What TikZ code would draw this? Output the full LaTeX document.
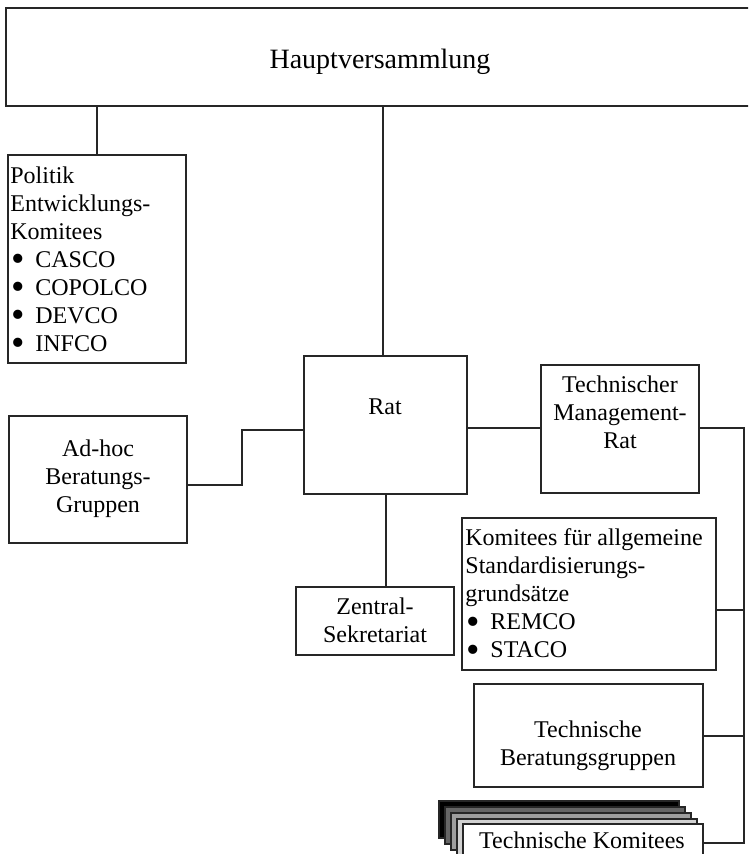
\documentclass[tikz,border=0pt]{standalone}
\usepackage{fontspec}
\setmainfont{Liberation Serif}
\tikzset{
  box/.style={draw=black!85, line width=1pt, rectangle, inner sep=0pt},
  txt/.style={inner sep=0pt, align=center, font=\fontsize{12pt}{14pt}\selectfont},
  lst/.style={inner sep=0pt, align=left, anchor=north west, font=\fontsize{12pt}{14pt}\selectfont},
  link/.style={draw=black!85, line width=1pt},
}
\newcommand{\itm}[1]{\makebox[12.5pt][l]{\hspace{0.5pt}\smash{\raisebox{-0.2em}{\scalebox{1.6}{\textbullet}}}}#1}
\begin{document}
\begin{tikzpicture}[x=0.5pt,y=-0.5pt]
        \useasboundingbox (0,0) rectangle (748,854);
        \clip (0,0) rectangle (748,854);
        % boxes
        \node[box, minimum width=382pt, minimum height=49pt] (hv) at (388,57) {};
        \node[box, minimum width=89pt, minimum height=104pt] (pol) at (97,259) {};
        \node[box, minimum width=89pt, minimum height=63.5pt] (adhoc) at (98,479.5) {};
        \node[box, minimum width=81.5pt, minimum height=69pt] (rat) at (385.5,425) {};
        \node[box, minimum width=79pt, minimum height=64pt] (tmr) at (620,429) {};
        \node[box, minimum width=79pt, minimum height=34pt] (zs) at (375,621) {};
        \node[box, minimum width=127pt, minimum height=76pt] (kom) at (589,594) {};
        \node[box, minimum width=114.5pt, minimum height=51.5pt] (tb) at (588.5,735.5) {};
        % stacked committees
        \node[box, fill=black, minimum width=120pt, minimum height=18.5pt] (tkd) at (559,819.5) {};
        \node[box, fill=black!60, minimum width=120pt, minimum height=18.5pt] (tkc) at (565,825) {};
        \node[box, fill=black!38, minimum width=120pt, minimum height=18.5pt] (tkb) at (571,831) {};
        \node[box, fill=black!18, minimum width=120pt, minimum height=18.5pt] (tka) at (577,837) {};
        \node[box, fill=white, minimum width=120pt, minimum height=18.5pt] (tk) at (583,842.5) {};
        % texts
        \node[txt, font=\fontsize{14pt}{17pt}\selectfont] (hvtext) at (380,62) {Hauptversammlung};
        \node[lst] (poltext) at (10,166) {Politik\\Entwicklungs-\\Komitees\\\itm{CASCO}\\\itm{COPOLCO}\\\itm{DEVCO}\\\itm{INFCO}};
        \node[txt] (adhoctext) at (98,479) {Ad-hoc\\Beratungs-\\Gruppen};
        \node[txt] (rattext) at (385,407) {Rat};
        \node[txt] (tmrtext) at (620,412) {Technischer\\Management-\\Rat};
        \node[txt] (zstext) at (375,620) {Zentral-\\Sekretariat};
        \node[lst] (komtext) at (465,528) {Komitees für allgemeine\\Standardisierungs-\\grundsätze\\\itm{REMCO}\\\itm{STACO}};
        \node[txt] (tbtext) at (588,746) {Technische\\Beratungsgruppen};
        \node[txt] (tktext) at (582,840) {Technische Komitees};
        % connectors
        \coordinate (rail) at (744,428);
        \coordinate (komport) at ([yshift=-8pt]kom.east);
        \draw[link] (pol.north |- hv.south) -- (pol.north);
        \draw[link] ([xshift=-1.5pt]rat.north |- hv.south) -- ([xshift=-1.5pt]rat.north);
        \draw[link] ([yshift=-2.5pt]adhoc.east) -- ++(54,0) |- ([yshift=-2.5pt]rat.west);
        \draw[link] (rat.east |- rail) -- (tmr.west |- rail);
        \draw[link] (tmr.east |- rail) -- (rail) |- (tk.east);
        \draw[link] (komport) -- (komport -| rail);
        \draw[link] (tb.east) -- (tb.east -| rail);
        \draw[link] (rat.south) -- (rat.south |- zs.north);
    \end{tikzpicture}
\end{document}
